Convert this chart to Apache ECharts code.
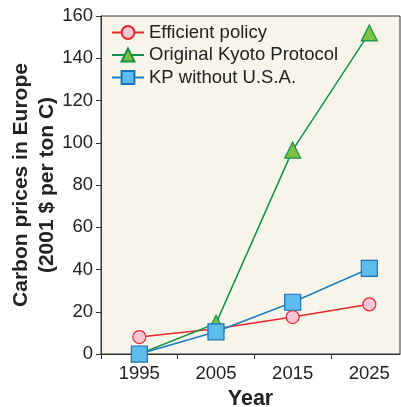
<!DOCTYPE html>
<html>
<head>
<meta charset="utf-8">
<script src="https://cdn.jsdelivr.net/npm/echarts@6/dist/echarts.min.js"></script>
<style>
  html, body { margin: 0; padding: 0; background: #fff; }
  #chart { width: 401px; height: 407px; }
</style>
</head>
<body>
<div id="chart"></div>
<script>
// data
const years = [1995, 2005, 2015, 2025];
const xTickYears = [1990, 2000, 2010, 2020];
const efficientPolicy = [8, 12, 17.5, 23.5];
const originalKyoto = [0, 14.5, 96.5, 152];
const kpWithoutUSA = [0, 10.5, 24.5, 40.5];
const yTicks = { min: 0, max: 160, interval: 20 };

const chart = echarts.init(document.getElementById('chart'), null, { renderer: 'canvas' });
const font = 'Liberation Sans, Arial, sans-serif';
const pairs = vals => years.map((y, i) => [y, vals[i]]);

chart.setOption({
    backgroundColor: '#fff',
    animation: false,
    grid: {
        left: 101, top: 16, width: 299, height: 338,
        containLabel: false, outerBoundsMode: 'none',
        show: true, backgroundColor: '#f7f4ea', borderColor: '#333', borderWidth: 1
    },
    legend: {
        left: 106, top: 18, orient: 'vertical', itemGap: 3.5,
        itemWidth: 32, itemHeight: 16,
        textStyle: { fontFamily: font, fontSize: 18.5, color: '#222' },
        data: ['Efficient policy', 'Original Kyoto Protocol', 'KP without U.S.A.']
    },
    xAxis: {
        type: 'value', min: 1990, max: 2029,
        name: 'Year', nameLocation: 'middle', nameGap: 33,
        nameTextStyle: { fontFamily: font, fontSize: 21.5, fontWeight: 'bold', color: '#222' },
        axisLine: { show: true, lineStyle: { color: '#333' } },
        axisTick: { show: true, length: 5, customValues: xTickYears, lineStyle: { color: '#333' } },
        axisLabel: {
            fontFamily: font, fontSize: 18.5, color: '#222', margin: 10,
            customValues: years, formatter: v => String(v)
        },
        splitLine: { show: false }
    },
    yAxis: {
        type: 'value', min: yTicks.min, max: yTicks.max, interval: yTicks.interval,
        name: 'Carbon prices in Europe\n(2001 $ per ton C)', nameLocation: 'middle',
        nameGap: 41, nameMoveOverlap: false,
        nameTextStyle: { fontFamily: font, fontSize: 21, fontWeight: 'bold', color: '#222', lineHeight: 26 },
        axisLine: { show: true, lineStyle: { color: '#333' } },
        axisTick: { show: true, length: 5, lineStyle: { color: '#333' } },
        axisLabel: { fontFamily: font, fontSize: 18.5, color: '#222', margin: 8 },
        splitLine: { show: false }
    },
    series: [
        {
            name: 'Efficient policy', type: 'line', data: pairs(efficientPolicy),
            symbol: 'circle', symbolSize: 13,
            lineStyle: { color: '#e8262e', width: 1.5 },
            itemStyle: { color: '#f8c6d6', borderColor: '#e8262e', borderWidth: 1.2 }
        },
        {
            name: 'Original Kyoto Protocol', type: 'line', data: pairs(originalKyoto),
            symbol: 'triangle', symbolSize: 16,
            lineStyle: { color: '#10924a', width: 1.5 },
            itemStyle: { color: '#7cc142', borderColor: '#10924a', borderWidth: 1.2 }
        },
        {
            name: 'KP without U.S.A.', type: 'line', data: pairs(kpWithoutUSA),
            symbol: 'rect', symbolSize: 16,
            lineStyle: { color: '#1c7fc2', width: 1.5 },
            itemStyle: { color: '#5cbceb', borderColor: '#1c72b8', borderWidth: 1.2 }
        }
    ]
});
</script>
</body>
</html>
